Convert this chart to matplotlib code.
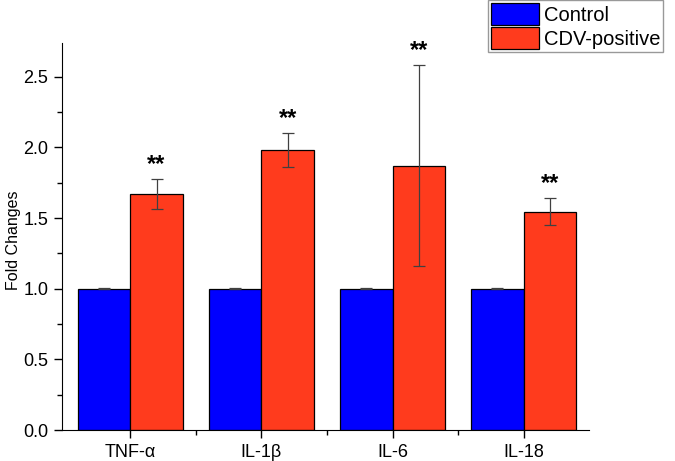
import matplotlib.pyplot as plt
import numpy as np
from matplotlib.ticker import MultipleLocator, FixedLocator

plt.rcParams['font.family'] = ['Liberation Sans', 'DejaVu Sans']

categories = ['TNF-α', 'IL-1β', 'IL-6', 'IL-18']
control = [1.0, 1.0, 1.0, 1.0]
control_err = [0.005, 0.005, 0.005, 0.005]
cdv = [1.67, 1.98, 1.87, 1.545]
cdv_err = [0.105, 0.12, 0.71, 0.095]
stars = ['**', '**', '**', '**']

fig = plt.figure(figsize=(6.75, 4.61), dpi=100)
ax = fig.add_axes([0.092, 0.067, 0.781, 0.84])

x = np.arange(1, len(categories) + 1)
w = 0.4
err_kw = dict(ecolor='#404040', elinewidth=0.9, capsize=4, capthick=0.9)
ax.bar(x - w / 2, control, w, yerr=control_err, color='#0000FF',
       edgecolor='black', linewidth=0.9, label='Control', error_kw=err_kw)
ax.bar(x + w / 2, cdv, w, yerr=cdv_err, color='#FF3B1D',
       edgecolor='black', linewidth=0.9, label='CDV-positive', error_kw=err_kw)

for xi, v, e, s in zip(x, cdv, cdv_err, stars):
    ax.text(xi + w / 2, v + e + 0.025, s, ha='center', va='bottom',
            fontsize=17, fontweight='bold')

ax.set_xlim(0.48, 4.5)
ax.set_ylim(0, 2.74)
ax.set_xticks(x)
ax.set_xticklabels(categories, fontsize=13)
ax.xaxis.set_minor_locator(FixedLocator([1.5, 2.5, 3.5]))
ax.yaxis.set_major_locator(MultipleLocator(0.5))
ax.yaxis.set_minor_locator(MultipleLocator(0.25))
ax.set_yticklabels([f'{t:.1f}' for t in ax.get_yticks()], fontsize=13)
ax.tick_params(axis='both', which='major', direction='out', length=6, width=1, pad=4)
ax.tick_params(axis='both', which='minor', direction='out', length=3.5, width=1)
ax.set_ylabel('Fold Changes', fontsize=11.5, va='center')
ax.yaxis.set_label_coords(-0.092, 0.49)
for side in ['top', 'right']:
    ax.spines[side].set_visible(False)

fig.legend(loc='upper left', bbox_to_anchor=(0.723, 1.0), fontsize=14.5,
           frameon=True, fancybox=False, edgecolor='#808080',
           handlelength=2.35, handleheight=1.3, handletextpad=0.25,
           labelspacing=0.1, borderpad=0.15, borderaxespad=0.02)

fig.savefig('out.png', dpi=100)
